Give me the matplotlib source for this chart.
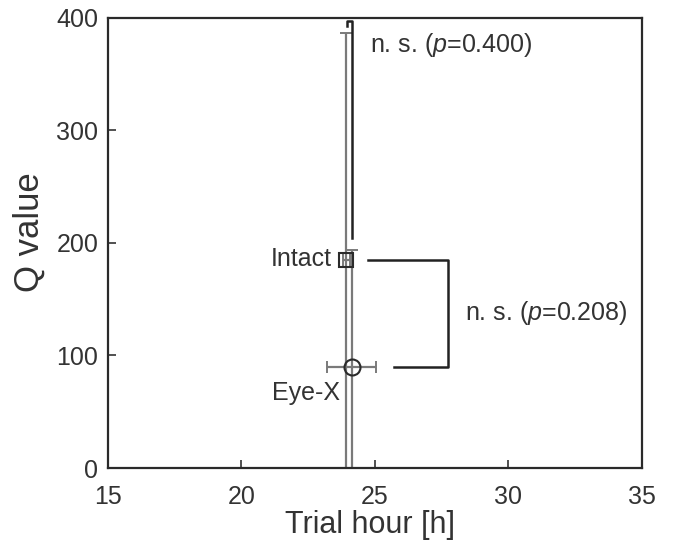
import matplotlib
matplotlib.use("Agg")
import matplotlib.pyplot as plt

plt.rcParams['font.family'] = ['Liberation Sans', 'DejaVu Sans']
plt.rcParams['mathtext.fontset'] = 'custom'
plt.rcParams['mathtext.rm'] = 'Liberation Sans'
plt.rcParams['mathtext.it'] = 'Liberation Sans:italic'

# data
groups = ['Intact', 'Eye-X']
hours = [23.93, 24.13]
q_values = [185, 90]
hour_err = [0.12, 0.91]
q_err = [202, 104]
markers = ['s', 'o']
marker_sizes = [10, 11.5]

# significance brackets
top_bracket_x = [23.95, 23.95, 24.15, 24.15]
top_bracket_y = [393, 397, 397, 204]
side_bracket_x = [24.74, 27.73, 27.73, 25.71]
side_bracket_y = [185, 185, 90, 90]
p_top = '0.400'
p_side = '0.208'

txt = '#333333'
gray = '#7a7a7a'

fig = plt.figure(figsize=(6.75, 5.42), dpi=100)
ax = fig.add_axes([0.16, 0.1365, 0.791, 0.8305])

for i in range(len(groups)):
    ax.errorbar(hours[i], q_values[i], xerr=hour_err[i], yerr=q_err[i],
                fmt='none', ecolor=gray, elinewidth=1.6, capsize=4, capthick=1.4,
                zorder=2)
    ax.plot(hours[i], q_values[i], marker=markers[i], ms=marker_sizes[i],
            mfc='none', mec='#2a2a2a', mew=1.5, ls='none', zorder=3)

ax.plot(top_bracket_x, top_bracket_y, color='#222222', lw=1.8, zorder=4)
ax.plot(side_bracket_x, side_bracket_y, color='#222222', lw=1.8, zorder=4)

ax.text(24.81, 376, 'n. s. ($p$=' + p_top + ')', fontsize=18, color=txt,
        ha='left', va='center')
ax.text(28.37, 138, 'n. s. ($p$=' + p_side + ')', fontsize=18, color=txt,
        ha='left', va='center')
ax.text(23.39, 186, groups[0], fontsize=18, color=txt, ha='right', va='center')
ax.text(23.69, 67, groups[1], fontsize=18, color=txt, ha='right', va='center')

ax.set_xlim(15, 35)
ax.set_ylim(0, 400)
ax.set_xticks([15, 20, 25, 30, 35])
ax.set_yticks([0, 100, 200, 300, 400])
ax.tick_params(direction='in', length=6, width=1.2, colors=txt, labelsize=18)
ax.tick_params(axis='x', pad=12)
ax.tick_params(axis='y', pad=7)
for s in ax.spines.values():
    s.set_linewidth(1.6)
    s.set_color('#2a2a2a')

ax.set_xlabel('Trial hour [h]', fontsize=22, color=txt)
ax.set_ylabel('Q value', fontsize=25, color=txt)
ax.xaxis.set_label_coords(0.49, -0.093)
ax.yaxis.set_label_coords(-0.117, 0.524)

fig.savefig('out.png', dpi=100)
